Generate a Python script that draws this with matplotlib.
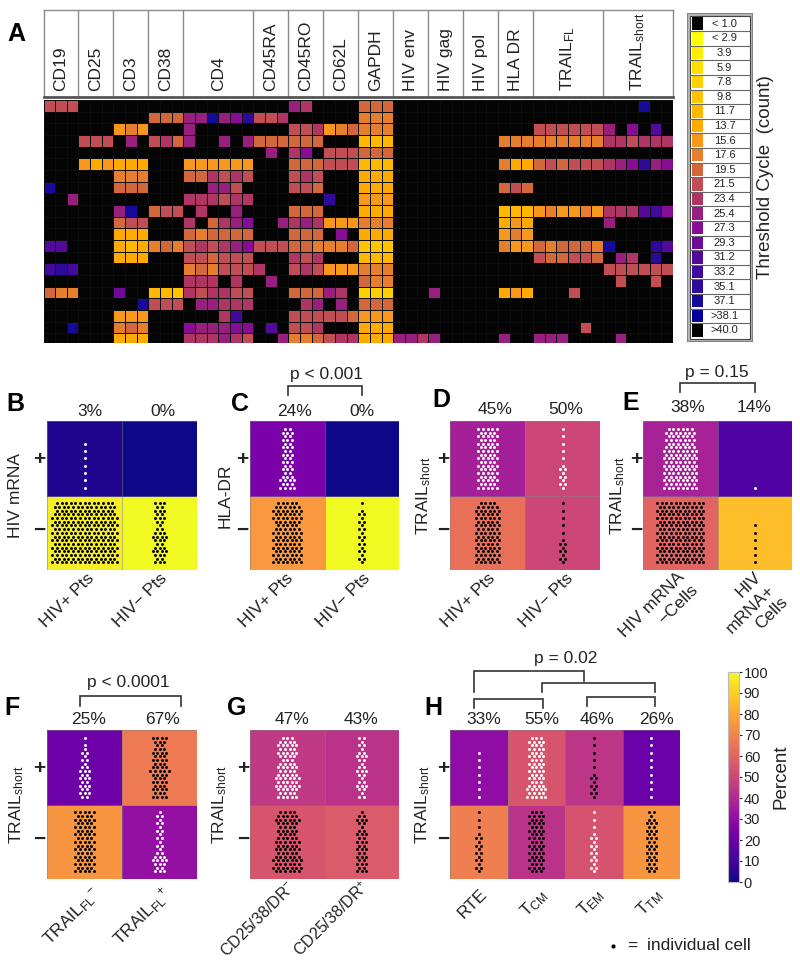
import numpy as np
import matplotlib
matplotlib.use('Agg')
from matplotlib import pyplot as plt
from matplotlib.colors import ListedColormap, BoundaryNorm, Normalize
from matplotlib.cm import ScalarMappable
from matplotlib.patches import Rectangle

plt.rcParams['font.family'] = ['Liberation Sans', 'DejaVu Sans']
plt.rcParams['mathtext.default'] = 'regular'

W = 800
H = 965

# panel A
gene_names = ['CD19', 'CD25', 'CD3', 'CD38', 'CD4', 'CD45RA', 'CD45RO', 'CD62L', 'GAPDH',
              'HIV env', 'HIV gag', 'HIV pol', 'HLA DR', 'TRAIL$_{FL}$', 'TRAIL$_{short}$']
gene_widths = [3, 3, 3, 3, 6, 3, 3, 3, 3, 3, 3, 3, 3, 6, 6]

# each row: {first column: threshold cycles of consecutive wells}
rows_a = [
    {0: [21.5, 21.5, 21.5], 21: [25.4, 23.4], 27: [19.5, 19.5, 19.5], 51: [37.1]},
    {9: [19.5, 19.5, 19.5], 12: [25.4, 25.4, 37.1, 25.4, 27.3, 35.1], 18: [21.5, 21.5, 23.4], 27: [17.6, 17.6, 17.6]},
    {6: [15.6, 17.6, 15.6], 12: [25.4], 21: [21.5, 21.5, 23.4], 24: [15.6, 17.6, 19.5], 27: [17.6, 17.6, 17.6],
     42: [21.5, 21.5, 21.5, 21.5, 21.5, 21.5], 48: [25.4], 50: [27.3], 52: [31.2]},
    {3: [21.5, 21.5, 21.5], 7: [25.4], 9: [21.5, 23.4, 19.5], 12: [25.4], 15: [25.4], 17: [25.4],
     18: [19.5, 19.5, 19.5], 21: [19.5, 19.5, 19.5], 27: [11.7, 11.7, 11.7], 39: [17.6, 17.6, 17.6],
     42: [17.6, 17.6, 17.6, 17.6, 17.6, 17.6], 48: [23.4, 23.4, 21.5, 23.4, 23.4, 23.4]},
    {19: [25.4], 21: [23.4, 27.3], 24: [21.5, 21.5, 21.5], 27: [19.5, 19.5, 19.5]},
    {3: [15.6, 13.7, 15.6], 6: [13.7, 13.7, 13.7], 12: [15.6, 15.6, 15.6, 15.6, 15.6, 15.6], 21: [19.5, 19.5, 19.5],
     24: [21.5, 21.5, 21.5], 27: [11.7, 11.7, 11.7], 39: [17.6, 13.7, 13.7], 42: [19.5, 21.5, 19.5, 21.5, 21.5, 21.5],
     48: [23.4, 25.4, 27.3, 35.1, 25.4, 27.3]},
    {6: [17.6, 17.6, 17.6], 12: [19.5, 19.5, 23.4, 21.5, 23.4, 21.5], 21: [21.5, 23.4, 21.5], 27: [13.7, 13.7, 13.7]},
    {0: [37.1], 6: [19.5, 19.5, 19.5], 14: [25.4, 25.4, 21.5], 21: [21.5, 21.5, 19.5], 27: [13.7, 13.7, 13.7],
     39: [19.5, 21.5, 19.5]},
    {2: [25.4], 12: [23.4, 23.4, 23.4, 21.5, 23.4, 23.4], 24: [35.1], 27: [15.6, 15.6, 15.6]},
    {6: [25.4, 37.1], 9: [19.5, 21.5, 21.5], 13: [23.4], 16: [25.4], 21: [19.5, 19.5, 19.5], 27: [13.7, 13.7, 13.7],
     39: [11.7, 11.7, 11.7], 42: [15.6, 17.6, 15.6, 15.6, 17.6, 15.6], 48: [23.4, 23.4, 23.4, 31.2, 33.2, 27.3]},
    {6: [19.5, 21.5, 21.5], 12: [23.4], 14: [19.5, 23.4, 25.4, 27.3], 20: [25.4], 21: [23.4, 25.4, 23.4],
     24: [15.6, 15.6, 15.6], 27: [17.6, 17.6, 17.6], 39: [13.7, 15.6, 13.7], 48: [25.4]},
    {6: [13.7, 13.7, 13.7], 12: [19.5, 17.6, 19.5, 19.5, 19.5, 19.5], 21: [19.5, 19.5, 19.5], 25: [27.3],
     27: [13.7, 13.7, 13.7], 39: [15.6, 17.6, 15.6]},
    {0: [31.2, 31.2], 6: [13.7, 11.7, 13.7], 9: [17.6, 19.5, 17.6], 12: [21.5, 23.4, 21.5, 23.4, 25.4, 27.3],
     18: [21.5, 21.5, 21.5], 21: [19.5, 19.5, 17.6], 24: [17.6, 17.6, 19.5], 27: [9.8, 9.8, 9.8], 39: [17.6, 15.6, 15.6],
     42: [19.5, 17.6, 19.5, 19.5, 19.5, 17.6], 48: [37.1], 52: [35.1, 31.2]},
    {6: [13.7, 13.7, 13.7], 12: [21.5, 21.5, 19.5, 21.5, 21.5, 21.5], 21: [23.4, 21.5, 23.4], 27: [11.7, 11.7, 11.7],
     42: [21.5, 19.5, 19.5, 21.5, 21.5, 19.5], 49: [25.4, 23.4], 52: [35.1]},
    {0: [33.2, 35.1, 33.2], 12: [17.6, 19.5, 17.6, 21.5, 21.5, 21.5], 18: [23.4], 21: [21.5, 23.4, 21.5],
     24: [15.6, 15.6, 15.6], 27: [17.6, 17.6, 17.6], 48: [21.5, 21.5, 21.5, 21.5, 21.5, 21.5]},
    {12: [23.4, 23.4, 23.4], 16: [23.4], 19: [25.4], 27: [19.5, 17.6, 17.6], 49: [21.5], 52: [21.5]},
    {0: [19.5, 17.6, 17.6], 6: [29.3], 9: [11.7, 11.7, 9.8], 12: [23.4, 21.5, 23.4, 23.4, 21.5, 21.5],
     21: [19.5, 19.5, 19.5], 24: [25.4, 23.4], 27: [7.8, 7.8, 7.8], 33: [25.4], 39: [13.7, 15.6, 13.7], 45: [21.5]},
    {8: [37.1], 9: [21.5, 21.5, 21.5], 13: [25.4, 25.4, 23.4, 23.4, 23.4], 22: [23.4, 25.4], 25: [25.4],
     27: [19.5, 19.5, 19.5]},
    {6: [15.6, 15.6, 15.6], 15: [23.4, 33.2], 21: [21.5, 21.5, 21.5], 24: [21.5, 21.5, 19.5], 27: [15.6, 15.6, 15.6]},
    {2: [37.1], 6: [17.6, 19.5, 17.6], 12: [27.3, 25.4, 25.4, 25.4, 27.3, 27.3], 19: [31.2], 21: [21.5, 21.5, 23.4],
     27: [13.7, 13.7, 13.7], 46: [21.5]},
    {6: [13.7, 13.7, 13.7], 12: [23.4, 23.4, 23.4, 25.4, 23.4, 21.5], 20: [25.4], 21: [17.6, 17.6, 19.5],
     24: [21.5, 23.4, 23.4], 27: [13.7, 13.7, 13.7], 30: [25.4, 25.4, 23.4, 25.4], 39: [25.4], 42: [25.4, 25.4, 25.4],
     49: [25.4]},
]

legend_labels = ['< 1.0', '< 2.9', '3.9', '5.9', '7.8', '9.8', '11.7', '13.7', '15.6', '17.6', '19.5',
                 '21.5', '23.4', '25.4', '27.3', '29.3', '31.2', '33.2', '35.1', '37.1', '>38.1', '>40.0']
ct_levels = [2.9, 3.9, 5.9, 7.8, 9.8, 11.7, 13.7, 15.6, 17.6, 19.5, 21.5, 23.4, 25.4, 27.3, 29.3, 31.2,
             33.2, 35.1, 37.1, 38.1]
ct_colors = ['#ffff00', '#ffee00', '#ffdf00', '#ffd000', '#ffc400', '#ffb800', '#ffaa00', '#f7981c', '#e67e2e',
             '#d2673c', '#c04e54', '#ae3564', '#971f7e', '#870e94', '#6e0a98', '#530a98', '#410a9a', '#2d0a9a',
             '#150a9a', '#00009a']

# panels B-H: percent shown as colour, top row is +, bottom row is -
pct_b = [[3, 0], [97, 100]]
pct_c = [[24, 0], [76, 100]]
pct_d = [[36, 50], [64, 50]]
pct_e = [[37, 14], [60, 86]]
pct_f = [[21, 67], [75, 31]]
pct_g = [[45, 43], [55, 57]]
pct_h = [[30, 55, 44, 20], [68, 43, 54, 75]]

top_b = ['3%', '0%']
top_c = ['24%', '0%']
top_d = ['45%', '50%']
top_e = ['38%', '14%']
top_f = ['25%', '67%']
top_g = ['47%', '43%']
top_h = ['33%', '55%', '46%', '26%']

# dots per height level in a cell, bottom level first
one = [1, 0, 1, 0, 1, 0, 1, 0, 1, 0, 1, 0, 1, 0, 1, 0, 1]
swarm_b = [[[1, 0, 1, 0, 1, 0, 1, 0, 1, 0, 1, 0, 1, 0, 0, 0, 0], []],
           [[15, 14, 15, 14, 15, 14, 15, 14, 15, 14, 15, 14, 15, 14, 13, 14, 13],
            [3, 2, 3, 4, 3, 2, 3, 4, 3, 2, 1, 2, 3, 2, 3, 2, 3]]]
swarm_c = [[[4, 3, 4, 3, 2, 3, 2, 3, 2, 3, 2, 3, 2, 3, 2, 3, 2], []],
           [[7, 6, 7, 6, 7, 6, 7, 6, 7, 6, 5, 6, 7, 6, 7, 6, 5],
            [1, 2, 1, 2, 1, 2, 1, 2, 1, 2, 1, 2, 1, 2, 1, 0, 1]]]
swarm_d = [[[5, 4, 5, 4, 5, 4, 5, 4, 5, 4, 5, 4, 5, 4, 5, 4, 5],
            [1, 2, 1, 2, 1, 2, 1, 0, 1, 0, 1, 0, 1, 0, 1, 0, 1]],
           [[6, 5, 6, 5, 6, 5, 6, 5, 6, 5, 6, 5, 6, 5, 6, 5, 4],
            [1, 2, 1, 2, 1, 2, 1, 0, 1, 0, 1, 0, 1, 0, 1, 0, 1]]]
swarm_e = [[[8, 7, 8, 7, 8, 7, 8, 7, 8, 7, 8, 7, 6, 7, 6, 7, 6],
            [1, 0, 0, 0, 0, 0, 0, 0, 0, 0, 0, 0, 0, 0, 0, 0, 0]],
           [[11, 10, 11, 10, 11, 10, 11, 10, 11, 10, 11, 10, 11, 10, 11, 10, 11],
            [1, 0, 1, 0, 1, 0, 1, 0, 1, 0, 1, 0, 0, 0, 0, 0, 0]]]
swarm_f = [[[2, 3, 2, 3, 2, 3, 2, 3, 2, 1, 2, 1, 2, 1, 1, 0, 1],
            [4, 3, 4, 3, 4, 3, 4, 5, 4, 3, 4, 3, 4, 3, 2, 3, 4]],
           [[5, 4, 5, 4, 5, 4, 5, 4, 5, 4, 5, 4, 5, 4, 5, 4, 5],
            [3, 2, 3, 4, 3, 2, 1, 2, 1, 2, 1, 2, 1, 2, 1, 2, 1]]]
swarm_g = [[[5, 4, 5, 6, 5, 6, 5, 4, 5, 4, 3, 4, 5, 4, 5, 4, 3],
            [2, 1, 2, 3, 2, 1, 2, 3, 2, 1, 2, 3, 2, 1, 2, 1, 2]],
           [[6, 7, 6, 7, 6, 5, 6, 5, 6, 5, 4, 5, 4, 5, 6, 5, 4],
            [3, 2, 3, 2, 3, 2, 3, 2, 3, 2, 3, 2, 1, 2, 3, 2, 1]]]
swarm_h = [[[1, 0, 1, 0, 1, 0, 1, 0, 1, 0, 1, 0, 1, 0, 0, 0, 0],
            [5, 4, 5, 4, 3, 4, 3, 4, 3, 4, 3, 4, 3, 4, 3, 4, 3],
            [1, 2, 1, 2, 1, 2, 1, 0, 1, 0, 1, 0, 1, 0, 1, 0, 1],
            one],
           [[1, 2, 1, 2, 1, 2, 1, 2, 1, 2, 1, 0, 1, 0, 1, 0, 1],
            [3, 4, 3, 4, 3, 4, 3, 4, 3, 4, 3, 4, 3, 4, 3, 4, 3],
            [1, 2, 1, 2, 1, 2, 1, 2, 1, 2, 1, 0, 1, 0, 1, 0, 1],
            [2, 3, 2, 3, 2, 3, 2, 3, 2, 3, 2, 3, 2, 3, 2, 1, 2]]]

dots_b = [['w', 'w'], ['k', 'k']]
dots_f = [['w', 'k'], ['k', 'w']]
dots_h = [['w', 'w', 'k', 'w'], ['k', 'k', 'w', 'k']]

ticks_bcd = ['HIV+ Pts', 'HIV\u2212 Pts']
ticks_e = ['HIV mRNA\n\u2212Cells', 'HIV\nmRNA+\nCells']
ticks_f = ['TRAIL$_{FL}$$^{-}$', 'TRAIL$_{FL}$$^{+}$']
ticks_g = ['CD25/38/DR$^{-}$', 'CD25/38/DR$^{+}$']
ticks_h = ['RTE', 'T$_{CM}$', 'T$_{EM}$', 'T$_{TM}$']
short = 'TRAIL$_{short}$'

cbar_ticks = [0, 10, 20, 30, 40, 50, 60, 70, 80, 90, 100]


def px_axes(x0, y0, x1, y1):
    return fig.add_axes([x0/W, 1-y1/H, (x1-x0)/W, (y1-y0)/H])


def draw_panel(box, pct, swarm, dot_cols, letter, letter_pos, ylabel, ylab_x, plus_x, tops, top_y, tops_x, ticks, tick_ends, tick_size=12.5):
    x0, y0, x1, y1 = box
    ax = px_axes(x0, y0, x1, y1)
    ncol = len(pct[0])
    ax.pcolormesh(np.arange(ncol+1), [0, 1, 2], np.array(pct)[::-1], cmap='plasma', vmin=0, vmax=100,
                  edgecolors=(0.5, 0.5, 0.5, 0.5), linewidth=0.6)
    ax.set_xlim(0, ncol)
    ax.set_ylim(0, 2)
    ax.axis('off')
    cell_w = (x1-x0)/ncol
    dx = 4.6/cell_w
    dy = 0.0495
    for r in range(2):
        base = (1 - r) + 0.103
        for c in range(ncol):
            for i, n in enumerate(swarm[r][c]):
                if n > 0:
                    xs = c + 0.5 + (np.arange(n) - (n-1)/2)*dx
                    ax.scatter(xs, [base + i*dy]*n, s=4.6, c=dot_cols[r][c], linewidths=0)
    tx.text(letter_pos[0], letter_pos[1], letter, fontsize=18, fontweight='bold', ha='center', va='center')
    ymid = (y0+y1)/2
    tx.text(ylab_x, ymid, ylabel, fontsize=12.5, rotation=90, ha='center', va='center', color='#222222')
    tx.text(plus_x, ymid-36, '+', fontsize=15, fontweight='bold', ha='center', va='center', color='#222222')
    tx.text(plus_x, ymid+35, '\u2212', fontsize=15, fontweight='bold', ha='center', va='center', color='#222222')
    for s, xx in zip(tops, tops_x):
        tx.text(xx, top_y, s, fontsize=12.5, ha='center', va='center', color='#222222')
    for s, e in zip(ticks, tick_ends):
        tx.text(e[0], e[1], s, fontsize=tick_size, rotation=45, ha='right', va='top', rotation_mode='anchor',
                multialignment='right', linespacing=1.25, color='#222222')


def bracket(x0, x1, top, bot0, bot1=None):
    if bot1 is None:
        bot1 = bot0
    tx.plot([x0, x0, x1, x1], [bot0, top, top, bot1], color='#333333', lw=1.2, solid_joinstyle='miter')


fig = plt.figure(figsize=(W/100, H/100), dpi=100)
fig.patch.set_facecolor('white')

# heat map
nrows = len(rows_a)
ncols = sum(gene_widths)
grid = np.zeros((nrows, ncols))
for r, row in enumerate(rows_a):
    for start, vals in row.items():
        grid[r, start:start+len(vals)] = vals

bounds = [2.0] + [(a+b)/2 for a, b in zip(ct_levels[:-1], ct_levels[1:])] + [39.0]
cmap_a = ListedColormap(ct_colors)
cmap_a.set_under('#040404')
norm_a = BoundaryNorm(bounds, cmap_a.N)

ax_a = px_axes(43.5, 100, 673, 342.7)
ax_a.pcolormesh(np.arange(ncols+1), np.arange(nrows+1), grid, cmap=cmap_a, norm=norm_a,
                edgecolors='#0c0c0c', linewidth=0.6)
ax_a.set_xlim(0, ncols)
ax_a.set_ylim(20.8, 0)
ax_a.axis('off')

# header boxes
ax_h = px_axes(43.5, 10, 673, 97)
ax_h.set_xlim(0, ncols)
ax_h.set_ylim(0, 1)
ax_h.set_xticks([])
ax_h.set_yticks([])
for s in ax_h.spines.values():
    s.set_color('#8a8a8a')
    s.set_linewidth(1.0)
ax_h.spines['bottom'].set_color('#555555')
ax_h.spines['bottom'].set_linewidth(2)
edges = np.cumsum(gene_widths)
for e in edges[:-1]:
    ax_h.axvline(e, color='#8a8a8a', lw=1.0)
for name, e, w in zip(gene_names, edges, gene_widths):
    ax_h.text(e - w/2, 0.07, name, fontsize=12.5, rotation=90, ha='center', va='bottom', color='#222222')

# overlay in pixel coordinates for text and brackets
tx = fig.add_axes([0, 0, 1, 1], zorder=5)
tx.set_xlim(0, W)
tx.set_ylim(H, 0)
tx.axis('off')
tx.patch.set_alpha(0)

tx.text(16, 34, 'A', fontsize=18, fontweight='bold', ha='center', va='center')

# Ct legend
ax_l = px_axes(686.5, 13, 752.5, 342)
ax_l.set_xlim(0, 66)
ax_l.set_ylim(329, 0)
ax_l.axis('off')
ax_l.add_patch(Rectangle((0, 0), 66, 329, fc='#b5b5b5', ec='#777777', lw=1.2))
ax_l.add_patch(Rectangle((3, 3), 60, 323, fc='white', ec='#444444', lw=0.8))
row_h = 14.6
swatches = ['#000000'] + ct_colors + ['#000000']
for i, (lab, col) in enumerate(zip(legend_labels, swatches)):
    y = 3.5 + i*row_h
    ax_l.add_patch(Rectangle((5.5, y+0.6), 11, row_h-1.8, fc=col, ec='none'))
    if i > 0:
        ax_l.plot([3, 63], [y, y], color='#666666', lw=0.8)
    ax_l.text(38, y+row_h/2, lab, fontsize=8, ha='center', va='center', color='#222222')
tx.text(765, 177, 'Threshold Cycle  (count)', fontsize=13.5, rotation=90, ha='center', va='center', color='#222222')

# small panels
draw_panel((47, 421, 197, 570), pct_b, swarm_b, dots_b, 'B', (15, 404), 'HIV mRNA', 16, 39, top_b, 412, (90, 163),
           ticks_bcd, [(86, 571), (159, 571)])
draw_panel((250, 421, 399, 570), pct_c, swarm_c, dots_b, 'C', (240, 404), 'HLA-DR', 225, 242, top_c, 412, (294, 362),
           ticks_bcd, [(285, 571), (362, 571)])
draw_panel((450, 421, 600, 570), pct_d, swarm_d, dots_b, 'D', (441, 400), short, 424, 443, top_d, 409, (495, 566),
           ticks_bcd, [(487, 571), (565, 571)])
draw_panel((643, 421, 792, 570), pct_e, swarm_e, dots_b, 'E', (631, 403), short, 618, 636, top_e, 407, (688, 754),
           ticks_e, [(677, 569), (754, 569)])
draw_panel((47, 730, 197, 879), pct_f, swarm_f, dots_f, 'F', (12, 708), short, 17, 39, top_f, 720, (89, 163),
           ticks_f, [(91, 884), (161, 884)])
draw_panel((250, 730, 399, 879), pct_g, swarm_g, dots_b, 'G', (237, 708), short, 220, 243, top_g, 720, (292, 361),
           ticks_g, [(287, 878), (361, 878)], tick_size=11.5)
draw_panel((450, 730, 680, 879), pct_h, swarm_h, dots_h, 'H', (433, 708), short, 423, 443, top_h, 719,
           (484, 542, 597, 657), ticks_h, [(479, 886), (538, 886), (595, 886), (654, 886)])

# p value brackets
tx.text(326, 374, 'p < 0.001', fontsize=12.5, ha='center', va='center', color='#222222')
bracket(288, 362, 386, 395)
tx.text(717, 372, 'p = 0.15', fontsize=12.5, ha='center', va='center', color='#222222')
bracket(680, 755, 383, 392)
tx.text(128, 683, 'p < 0.0001', fontsize=12.5, ha='center', va='center', color='#222222')
bracket(80, 181, 696, 706)
tx.text(566, 658, 'p = 0.02', fontsize=12.5, ha='center', va='center', color='#222222')
bracket(474, 543, 699, 708)
bracket(587, 655, 697, 706)
bracket(542, 655, 683, 692)
bracket(474, 584, 671, 692, 681)

# colour bar
ax_c = px_axes(728, 672, 739, 882)
cb = fig.colorbar(ScalarMappable(Normalize(0, 100), 'plasma'), cax=ax_c)
cb.set_ticks(cbar_ticks)
cb.ax.tick_params(length=2, width=0.8, pad=1.5, labelsize=10.5, colors='#222222')
cb.outline.set_edgecolor('#bbbbbb')
tx.text(781, 777, 'Percent', fontsize=13.5, rotation=90, ha='center', va='center', color='#222222')

# key
tx.scatter([613], [946], s=9, c='k', linewidths=0)
tx.text(632, 946, '=', fontsize=12.5, ha='center', va='center', color='#222222')
tx.text(647, 946, 'individual cell', fontsize=12.5, ha='left', va='center', color='#222222')
tx.set_xlim(0, W)
tx.set_ylim(H, 0)

fig.savefig('out.png', dpi=100)
